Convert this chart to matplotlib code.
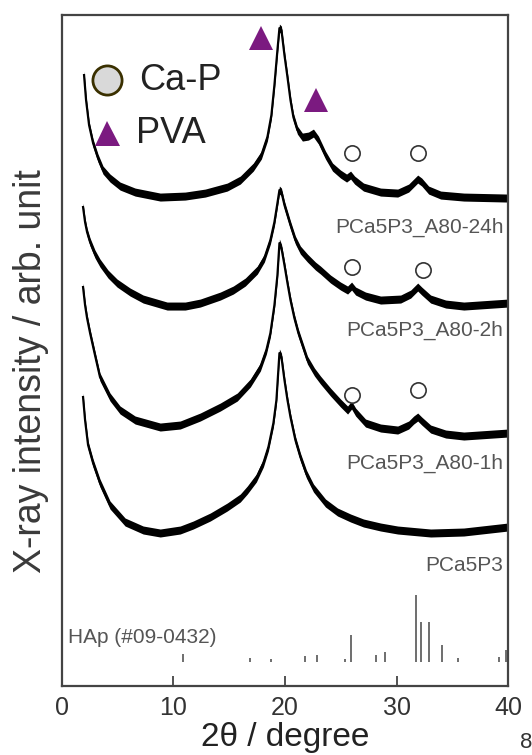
"""
XRD patterns of PCa5P3 films before/after soaking, with HAp reference sticks.
"""

import matplotlib.pyplot as plt
import numpy as np

plt.rcParams["font.family"] = ["Liberation Sans", "DejaVu Sans"]

# ---- data (2theta in degree, intensity in arb. unit) ----
two_theta_24h = [1.98, 2.16, 2.43, 2.79, 3.23, 3.68, 4.31, 5.21, 6.56, 8.81,
                 11.05, 12.85, 14.82, 15.99, 17.16, 17.88, 18.42, 18.78, 19.05,
                 19.32, 19.50, 19.68, 19.95, 20.22, 20.49, 20.75, 21.11, 21.56,
                 22.10, 22.55, 23.00, 23.63, 24.26, 24.98, 25.52, 25.88, 26.24,
                 27.04, 28.57, 30.10, 31.09, 31.54, 31.90, 32.26, 32.88, 33.96,
                 36.03, 40.0]
intensity_24h = [611, 586, 561, 543, 528, 516, 508, 500, 494, 489,
                 490, 493, 499, 506, 519, 531, 549, 571, 601,
                 636, 658, 656, 631, 609, 586, 569, 556, 549,
                 550, 553, 546, 531, 519, 512, 508, 511, 506,
                 499, 494, 493, 498, 503, 507, 504, 496, 491,
                 489, 488]

two_theta_2h = [1.89, 2.07, 2.25, 2.52, 2.96, 3.41, 4.13, 4.94, 6.11, 7.28,
                9.43, 11.05, 12.40, 14.20, 15.36, 16.44, 17.52, 18.15, 18.69,
                19.05, 19.32, 19.50, 19.68, 19.95, 20.49, 20.93, 21.38, 22.01,
                22.73, 23.18, 24.08, 24.98, 25.61, 25.97, 26.33, 27.22, 28.57,
                30.37, 31.27, 31.90, 32.26, 33.06, 34.41, 36.03, 40.0]
intensity_2h = [479, 464, 454, 444, 432, 423, 412, 403, 394, 387,
                380, 380, 383, 390, 396, 404, 416, 428, 446,
                464, 483, 496, 494, 481, 461, 446, 436, 428,
                420, 416, 407, 400, 396, 400, 395, 390, 386,
                387, 392, 399, 395, 387, 382, 380, 383]

two_theta_1h = [1.89, 2.07, 2.25, 2.52, 2.96, 3.41, 4.31, 5.21, 6.56, 8.81,
                10.60, 12.40, 14.20, 15.72, 16.89, 17.79, 18.33, 18.69, 19.05,
                19.32, 19.50, 19.68, 19.95, 20.22, 20.49, 20.84, 21.20, 21.65,
                22.01, 22.64, 23.18, 24.08, 24.98, 25.61, 25.97, 26.33, 27.22,
                28.57, 30.10, 31.09, 31.54, 31.90, 32.26, 33.06, 34.41, 36.03,
                40.0]
intensity_1h = [399, 381, 368, 353, 331, 309, 289, 276, 266, 259,
                261, 269, 279, 289, 303, 319, 336, 353, 381,
                411, 443, 438, 421, 403, 386, 368, 353, 338,
                326, 314, 306, 294, 283, 276, 281, 274, 263,
                258, 256, 261, 266, 269, 265, 257, 252, 250,
                253]

two_theta_base = [1.89, 2.07, 2.34, 2.79, 3.41, 4.31, 5.66, 7.28, 8.81, 10.60,
                  11.77, 13.30, 14.82, 15.99, 16.62, 17.43, 18.06, 18.51, 18.96,
                  19.23, 19.50, 19.68, 19.95, 20.22, 20.49, 20.93, 21.38, 21.92,
                  22.55, 23.63, 24.71, 25.88, 27.04, 28.57, 30.10, 33.06, 36.03,
                  40.0]
intensity_base = [289, 266, 241, 223, 203, 181, 164, 156, 153, 156,
                  161, 169, 179, 188, 196, 208, 223, 239, 263,
                  286, 333, 329, 306, 286, 269, 246, 229, 212,
                  198, 183, 174, 168, 163, 159, 156, 153, 154,
                  159]

hap_two_theta = [10.82, 16.84, 18.78, 21.82, 22.90, 25.36, 25.88, 28.13, 28.97,
                 31.77, 32.20, 32.90, 34.05, 35.48, 39.20, 39.82]
hap_intensity = [12, 6, 5, 9, 10, 4, 40, 10, 15, 100, 60, 60, 25, 6, 8, 18]

pva_peaks = [(17.88, 648), (22.82, 586)]
cap_peaks = [(25.97, 533), (31.90, 533),
             (25.97, 419), (32.40, 416),
             (25.97, 291), (31.90, 296)]

curve_labels = ["PCa5P3_A80-24h", "PCa5P3_A80-2h", "PCa5P3_A80-1h", "PCa5P3"]
label_heights = [459, 356, 223, 121]

HAP_BASE = 24
HAP_SCALE = 0.67
PURPLE = "#7b1a80"
NOISE = 4.0

fig = plt.figure(figsize=(5.32, 7.55), dpi=100)
ax = fig.add_axes([0.1165, 0.0914, 0.8385, 0.8886])

curves = [(two_theta_24h, intensity_24h), (two_theta_2h, intensity_2h),
          (two_theta_1h, intensity_1h), (two_theta_base, intensity_base)]

for xs, ys in curves:
    xs = np.asarray(xs)
    ys = np.asarray(ys)
    ax.fill_between(xs, ys - NOISE, ys + NOISE, color="black", linewidth=0)
    ax.plot(xs, ys, color="black", linewidth=1.6)

for text, height in zip(curve_labels, label_heights):
    ax.text(39.6, height, text, ha="right", va="center",
            fontsize=15, color="#555555")

# HAp reference pattern
for pos, inten in zip(hap_two_theta, hap_intensity):
    ax.vlines(pos, HAP_BASE, HAP_BASE + inten * HAP_SCALE,
              color="#555555", linewidth=1.2)
ax.text(0.55, 49, "HAp (#09-0432)", ha="left", va="center",
        fontsize=15, color="#555555")

# peak markers
ax.plot([p[0] for p in pva_peaks], [p[1] for p in pva_peaks], "^",
        color=PURPLE, markersize=17, markeredgewidth=0)
ax.plot([p[0] for p in cap_peaks], [p[1] for p in cap_peaks], "o",
        markerfacecolor="white", markeredgecolor="#333333",
        markersize=11, markeredgewidth=1.2)

# legend drawn by hand
ax.plot([4.04], [606], "o", markerfacecolor="#d9d9d9",
        markeredgecolor="#3a3000", markersize=21, markeredgewidth=2)
ax.plot([4.04], [553], "^", color=PURPLE, markersize=18, markeredgewidth=0)
ax.text(6.9, 606, "Ca-P", ha="left", va="center", fontsize=26, color="#222222")
ax.text(6.6, 553, "PVA", ha="left", va="center", fontsize=26, color="#222222")

ax.set_xlim(0, 40)
ax.set_ylim(0, 671)
ax.set_xticks([0, 10, 20, 30, 40])
ax.set_yticks([])
ax.tick_params(axis="x", direction="in", length=7, width=1.3,
               labelsize=18, labelcolor="#333333", pad=7, color="#444444")
for spine in ax.spines.values():
    spine.set_linewidth(1.6)
    spine.set_color("#444444")

ax.set_xlabel("2\u03b8 / degree", fontsize=24, color="#222222", labelpad=2)
ax.set_ylabel("X-ray intensity / arb. unit", fontsize=27, color="#3a3a3a")
ax.yaxis.set_label_coords(-0.03, 0.47)

fig.text(0.99, 0.002, "8", ha="center", va="bottom", fontsize=16,
         color="#333333")

fig.savefig("out.png", dpi=100)
